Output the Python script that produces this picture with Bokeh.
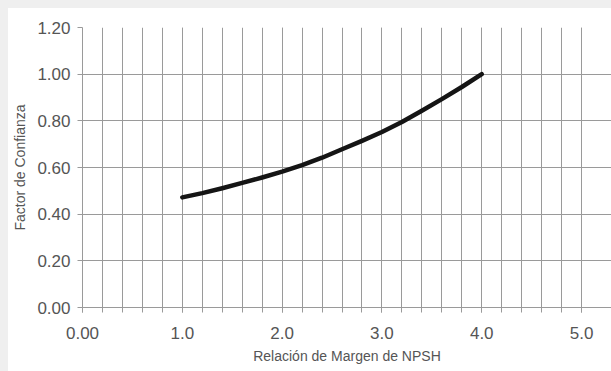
from bokeh.plotting import figure
from bokeh.models import FixedTicker, CustomJSTickFormatter, Range1d
from bokeh.embed import file_html
from bokeh.resources import INLINE

# data
margin_ratio = [1.0, 1.2, 1.4, 1.6, 1.8, 2.0, 2.2, 2.4, 2.6, 2.8, 3.0, 3.2, 3.4, 3.6, 3.8, 4.0]
confidence = [0.472, 0.49, 0.511, 0.534, 0.557, 0.582, 0.61, 0.642, 0.678, 0.714, 0.752, 0.795, 0.843, 0.893, 0.945, 1.0]

x_major = [0, 1, 2, 3, 4, 5]
x_minor = [round(i * 0.2, 1) for i in range(26)]
y_ticks = [round(i * 0.2, 1) for i in range(7)]

x_title = "Relación de Margen de NPSH"
y_title = "Factor de Confianza"

FONT = "Liberation Sans"
GRID = "#9a9a9a"

p = figure(width=603, height=363, output_backend="svg", toolbar_location=None,
           x_range=Range1d(0, 5.3), y_range=Range1d(0, 1.2),
           min_border_left=74, min_border_right=0, min_border_top=19, min_border_bottom=64)
p.outline_line_color = None
p.background_fill_color = "white"
p.border_fill_color = "white"
p.styles = {"margin-left": "8px", "margin-top": "8px",
            "box-shadow": "0 0 0 8px #efefef"}

p.line(margin_ratio, confidence, line_color="#151515", line_width=4.5,
       line_join="round", line_cap="round")

# x axis
xt = FixedTicker(ticks=x_major, minor_ticks=x_minor)
p.xaxis.ticker = xt
p.xaxis.formatter = CustomJSTickFormatter(code="return tick == 0 ? '0.00' : tick.toFixed(1);")
p.xaxis.axis_label = x_title
p.xaxis.axis_label_text_font = FONT
p.xaxis.axis_label_text_font_size = "14px"
p.xaxis.axis_label_text_font_style = "normal"
p.xaxis.axis_label_text_color = "#555555"
p.xaxis.axis_label_standoff = 6
p.xaxis.major_label_text_font = FONT
p.xaxis.major_label_text_font_size = "17px"
p.xaxis.major_label_text_color = "#555555"
p.xaxis.major_label_standoff = 14
p.xaxis.axis_line_color = GRID
p.xaxis.major_tick_line_color = GRID
p.xaxis.minor_tick_line_color = GRID
p.xaxis.major_tick_out = 5
p.xaxis.major_tick_in = 0
p.xaxis.minor_tick_out = 5
p.xaxis.minor_tick_in = 0

# y axis
yt = FixedTicker(ticks=y_ticks, minor_ticks=[])
p.yaxis.ticker = yt
p.yaxis.formatter = CustomJSTickFormatter(code="return tick.toFixed(2);")
p.yaxis.axis_label = y_title
p.yaxis.axis_label_text_font = FONT
p.yaxis.axis_label_text_font_size = "14px"
p.yaxis.axis_label_text_font_style = "normal"
p.yaxis.axis_label_text_color = "#555555"
p.yaxis.axis_label_standoff = 6
p.yaxis.major_label_text_font = FONT
p.yaxis.major_label_text_font_size = "17px"
p.yaxis.major_label_text_color = "#555555"
p.yaxis.major_label_standoff = 7
p.yaxis.axis_line_color = GRID
p.yaxis.major_tick_line_color = GRID
p.yaxis.major_tick_out = 5
p.yaxis.major_tick_in = 0
p.yaxis.minor_tick_line_color = None

# grids
p.xgrid.ticker = xt
p.xgrid.grid_line_color = GRID
p.xgrid.grid_line_width = 1
p.xgrid.minor_grid_line_color = GRID
p.xgrid.minor_grid_line_width = 1
p.ygrid.ticker = yt
p.ygrid.grid_line_color = GRID
p.ygrid.grid_line_width = 1

open("out.html", "w").write(file_html(p, INLINE))
